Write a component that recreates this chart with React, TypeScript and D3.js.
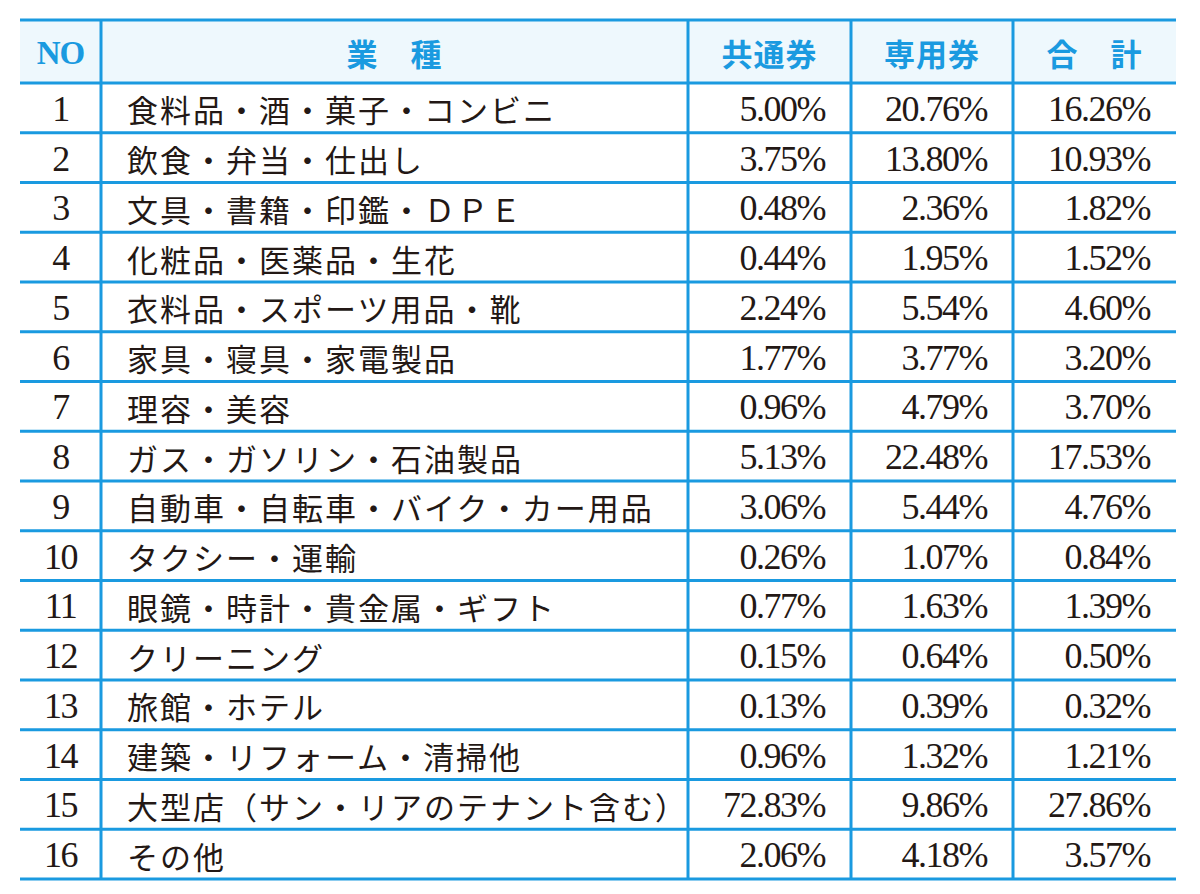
import React from "react";
import * as d3 from "d3";

const headers = ["NO", "業　種", "共通券", "専用券", "合　計"];
const rowNos = ["1","2","3","4","5","6","7","8","9","10","11","12","13","14","15","16"];
const categories = [
  "食料品・酒・菓子・コンビニ",
  "飲食・弁当・仕出し",
  "文具・書籍・印鑑・ＤＰＥ",
  "化粧品・医薬品・生花",
  "衣料品・スポーツ用品・靴",
  "家具・寝具・家電製品",
  "理容・美容",
  "ガス・ガソリン・石油製品",
  "自動車・自転車・バイク・カー用品",
  "タクシー・運輸",
  "眼鏡・時計・貴金属・ギフト",
  "クリーニング",
  "旅館・ホテル",
  "建築・リフォーム・清掃他",
  "大型店（サン・リアのテナント含む）",
  "その他",
];
const commonTicket = ["5.00%","3.75%","0.48%","0.44%","2.24%","1.77%","0.96%","5.13%","3.06%","0.26%","0.77%","0.15%","0.13%","0.96%","72.83%","2.06%"];
const dedicatedTicket = ["20.76%","13.80%","2.36%","1.95%","5.54%","3.77%","4.79%","22.48%","5.44%","1.07%","1.63%","0.64%","0.39%","1.32%","9.86%","4.18%"];
const totals = ["16.26%","10.93%","1.82%","1.52%","4.60%","3.20%","3.70%","17.53%","4.76%","0.84%","1.39%","0.50%","0.32%","1.21%","27.86%","3.57%"];

const W = 1200, H = 894;
const colEdges = [20, 101, 688, 851, 1013, 1176];
const headerTop = 20, headerBottom = 83, tableBottom = 879;
const LINE = "#1a9ae0";
const HEAD_BG = "#eef8fd";
const TEXT = "#231815";
const serif = "'Liberation Serif', 'DejaVu Serif', serif";
const jp = "'Noto Sans CJK JP', sans-serif";

export default function App() {
  const y = d3.scaleBand<string>().domain(rowNos).range([headerBottom, tableBottom]);
  const numCols = [commonTicket, dedicatedTicket, totals];
  const mid = (i: number) => (colEdges[i] + colEdges[i + 1]) / 2;
  return (
    <div style={{ position: "absolute", left: 0, top: 0 }}>
      <svg width={W} height={H} style={{ display: "block", background: "#fff" }}>
        <rect x={colEdges[0]} y={headerTop} width={colEdges[5] - colEdges[0]} height={headerBottom - headerTop} fill={HEAD_BG} />
        {headers.map((h, i) => (
          <text key={h} x={mid(i)} y={(headerTop + headerBottom) / 2 + 1} textAnchor="middle" dominantBaseline="central"
            fill={LINE} fontWeight={700}
            style={{ fontFamily: i === 0 ? serif : jp, fontSize: i === 0 ? 33 : 31, letterSpacing: i === 0 ? -1 : 1 }}>
            {h}
          </text>
        ))}
        {rowNos.map((no, r) => {
          const cy = (y(no) as number) + y.bandwidth() / 2 + 1;
          return (
            <g key={no}>
              <text x={mid(0)} y={cy} textAnchor="middle" dominantBaseline="central" fill={TEXT}
                style={{ fontFamily: serif, fontSize: 36, letterSpacing: -1.5 }}>{no}</text>
              <text x={colEdges[1] + 26} y={cy} dominantBaseline="central" fill={TEXT}
                style={{ fontFamily: jp, fontSize: 31, letterSpacing: 2 }}>{categories[r]}</text>
              {numCols.map((col, c) => (
                <text key={c} x={colEdges[c + 3] - 26} y={cy} textAnchor="end" dominantBaseline="central" fill={TEXT}
                  style={{ fontFamily: serif, fontSize: 36, letterSpacing: -1.5 }}>{col[r]}</text>
              ))}
            </g>
          );
        })}
        {[headerTop, headerBottom, ...rowNos.slice(1).map((n) => y(n) as number), tableBottom].map((yy, i) => (
          <line key={"h" + i} x1={colEdges[0]} x2={colEdges[5]} y1={yy} y2={yy} stroke={LINE} strokeWidth={3} />
        ))}
        {colEdges.slice(1, 5).map((xx, i) => (
          <line key={"v" + i} x1={xx} x2={xx} y1={headerTop} y2={tableBottom} stroke={LINE} strokeWidth={3} />
        ))}
      </svg>
    </div>
  );
}
